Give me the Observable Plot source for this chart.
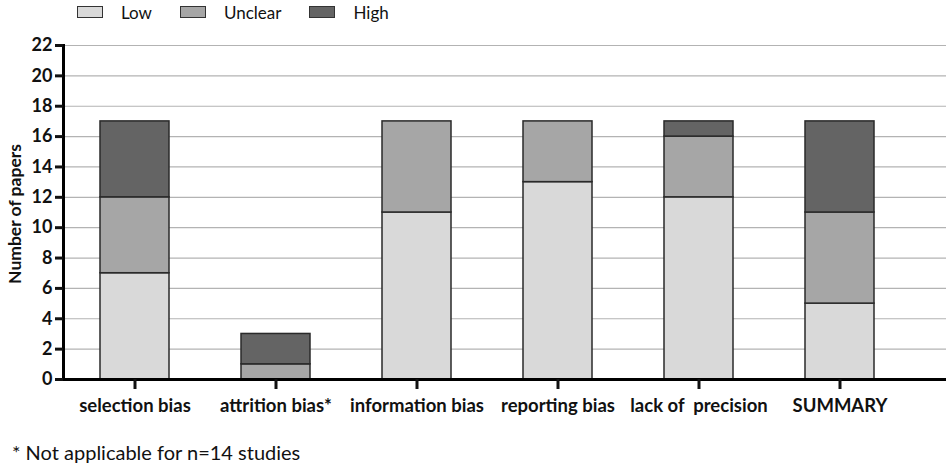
<!DOCTYPE html>
<html><head><meta charset="utf-8">
<script src="https://cdn.jsdelivr.net/npm/d3@7"></script>
<script src="https://cdn.jsdelivr.net/npm/@observablehq/plot@0.6"></script>
<style>
body{margin:0;background:#fff;font-family:Lato,"Open Sans",sans-serif;width:950px;height:468px;overflow:hidden;position:relative}
#legend{position:absolute;top:-3px;left:77px;height:30px;display:flex;align-items:center;font-size:17px;color:#111}
#legend .it{display:flex;align-items:center;margin-right:28px}
#legend .sw{width:24px;height:10px;border:1.5px solid #333;margin-right:18px}
#chart{position:absolute;top:30px;left:0}
#ylab{position:absolute;left:14px;top:214px;transform:translate(-50%,-50%) rotate(-90deg);font-size:17.5px;font-weight:bold;white-space:nowrap;color:#111}
#note{position:absolute;top:440px;left:12px;font-size:20px;color:#111}
</style></head><body>
<div id="legend"></div>
<div id="chart"></div>
<div id="ylab">Number of papers</div>
<div id="note">* Not applicable for n=14 studies</div>
<script>
const categories = ["selection bias","attrition bias*","information bias","reporting bias","lack of  precision","SUMMARY"];
const levels = ["Low","Unclear","High"];
const lowValues = [7,0,11,13,12,5];
const unclearValues = [5,1,6,4,4,6];
const highValues = [5,2,0,0,1,6];
const yTicks = [0,2,4,6,8,10,12,14,16,18,20,22];
const colors = ["#d9d9d9","#a6a6a6","#646464"];

const series = [lowValues, unclearValues, highValues];
const data = [];
levels.forEach((lv, i) => categories.forEach((c, j) => {
  if (series[i][j] > 0) data.push({category: c, level: lv, value: series[i][j]});
}));

const leg = document.getElementById("legend");
levels.forEach((lv, i) => {
  const d = document.createElement("div"); d.className = "it";
  d.innerHTML = `<span class="sw" style="background:${colors[i]}"></span><span>${lv}</span>`;
  leg.appendChild(d);
});

const chart = Plot.plot({
  width: 950, height: 412,
  marginLeft: 63, marginRight: 4, marginTop: 15, marginBottom: 63,
  style: {fontFamily: "Lato, 'Open Sans', sans-serif", color: "#111"},
  x: {domain: categories, paddingInner: 0.51, paddingOuter: 0.385, align: 0.34, label: null},
  y: {domain: [0, 22], ticks: yTicks, label: null},
  color: {domain: levels, range: colors},
  marks: [
    Plot.ruleY(yTicks.filter(t => t > 0), {stroke: "#b3b3b3", strokeWidth: 1.2}),
    Plot.barY(data, {x: "category", y: "value", fill: "level", stroke: "#2a2a2a", strokeWidth: 1.5, order: levels}),
    Plot.ruleY([0], {stroke: "#000", strokeWidth: 3}),
    Plot.frame({anchor: "left", stroke: "#000", strokeWidth: 3}),
    Plot.axisY({ticks: yTicks, tickSize: 8, strokeWidth: 3, tickPadding: 3, fontSize: 18, fontWeight: "bold", label: null}),
    Plot.axisX({tickSize: 10, strokeWidth: 3, tickPadding: 9, fontSize: 18.5, fontWeight: "bold", label: null})
  ]
});
chart.querySelectorAll("text").forEach(t => t.setAttribute("xml:space", "preserve"));
chart.style.whiteSpace = "pre";
document.getElementById("chart").appendChild(chart);
</script>
</body></html>
